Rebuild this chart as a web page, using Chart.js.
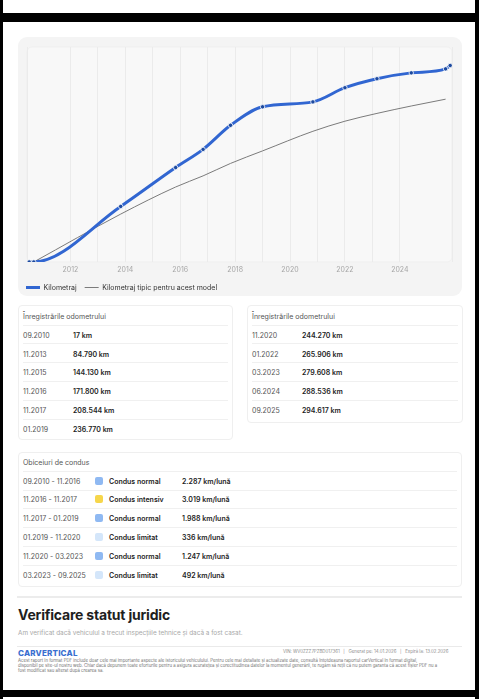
<!DOCTYPE html>
<html>
<head>
<meta charset="utf-8">
<script src="https://cdn.jsdelivr.net/npm/chart.js@4.4.1/dist/chart.umd.min.js"></script>
<style>
  html, body { margin: 0; padding: 0; }
  body { width: 479px; height: 699px; background: #000; position: relative; overflow: hidden; font-family: Inter, "Noto Sans", sans-serif; }
  .sheet { position: absolute; left: 3px; width: 472px; background: #fff; }
  .card { position: absolute; box-sizing: border-box; }
  #chartCard { left: 18px; top: 37px; width: 444px; height: 259px; background: #f4f4f4; border-radius: 9px; }
  #chartCanvas { position: absolute; left: 18px; top: 37px; }
  .tbl { border: 1px solid #efefef; border-radius: 4px; background: #fff; }
  .row { position: absolute; left: 0; right: 0; height: 18.8px; font-size: 7px; color: #555; }
  .row span { position: absolute; top: 50%; transform: translateY(-50%); white-space: nowrap; }
  .row .v { color: #222; font-weight: 600; }
  .sep { position: absolute; left: 4px; right: 4px; height: 1px; background: #f0f0f0; }
  .sq { position: absolute; width: 8px; height: 8px; border-radius: 2px; top: 50%; transform: translateY(-50%); }
  .abs { position: absolute; white-space: nowrap; }
</style>
</head>
<body>
<div class="sheet" style="top:0;height:13px;"></div>
<div class="sheet" style="top:22px;height:668px;"></div>
<div class="sheet" style="top:697px;height:2px;"></div>

<div id="chartCard" class="card"></div>
<canvas id="chartCanvas" width="444" height="264"></canvas>

<div id="odoLeft" class="card tbl" style="left:18px;top:305px;width:215px;height:135px;"></div>
<div id="odoRight" class="card tbl" style="left:247px;top:305px;width:216px;height:118px;"></div>
<div id="habits" class="card tbl" style="left:18px;top:452px;width:444px;height:135px;"></div>

<div class="abs" style="left:17px;top:596px;width:445px;height:2px;background:#ececec;"></div>
<div class="abs" style="left:18px;top:606px;font-size:14px;font-weight:700;color:#1e1e1e;letter-spacing:-0.2px;">Verificare statut juridic</div>
<div class="abs" style="left:18px;top:629px;font-size:6.4px;color:#a8a8a8;">Am verificat dacă vehiculul a trecut inspecțiile tehnice și dacă a fost casat.</div>
<div class="abs" style="left:17px;top:646px;width:445px;height:1px;background:#eaeaea;"></div>
<div class="abs" style="left:18px;top:648px;font-size:8px;font-weight:800;color:#3a6fd0;letter-spacing:0.2px;">CARVERTICAL</div>
<div class="abs" style="left:283px;top:649px;font-size:4.4px;color:#8a8a8a;">VIN: WV0ZZZ7PZBD017361 &nbsp;&nbsp;|&nbsp;&nbsp; Generat pe: 14.01.2026 &nbsp;&nbsp;|&nbsp;&nbsp; Expiră la: 13.02.2026</div>
<div class="abs" style="left:18px;top:657.5px;font-size:4.3px;line-height:5.2px;color:#707070;">Acest raport în format PDF include doar cele mai importante aspecte ale istoricului vehiculului. Pentru cele mai detaliate și actualizate date, consultă întotdeauna raportul carVertical în format digital,<br>disponibil pe site-ul nostru web. Chiar dacă depunem toate eforturile pentru a asigura acuratețea și corectitudinea datelor la momentul generării, te rugăm să reții că nu putem garanta că acest fișier PDF nu a<br>fost modificat sau alterat după crearea sa.</div>

<script>
// chart data (dates MM.YYYY)
const mileageDates = ["07.2010", "09.2010", "11.2013", "11.2015", "11.2016", "11.2017", "01.2019", "11.2020", "01.2022", "03.2023", "06.2024", "09.2025", "11.2025"];
const mileageKm = [0, 17, 84790, 144130, 171800, 208544, 236770, 244270, 265906, 279608, 288536, 294617, 299800];

const typicalDates = ["09.2010", "11.2013", "11.2015", "11.2016", "11.2017", "01.2019", "11.2020", "01.2022", "03.2023", "06.2024", "09.2025"];
const typicalKm = [17, 73100, 114400, 131400, 150400, 169500, 199400, 214800, 226700, 238000, 248400];

// tables
const odoLeftDates = ["09.2010", "11.2013", "11.2015", "11.2016", "11.2017", "01.2019"];
const odoLeftValues = ["17 km", "84.790 km", "144.130 km", "171.800 km", "208.544 km", "236.770 km"];
const odoRightDates = ["11.2020", "01.2022", "03.2023", "06.2024", "09.2025"];
const odoRightValues = ["244.270 km", "265.906 km", "279.608 km", "288.536 km", "294.617 km"];

const habitPeriods = ["09.2010 - 11.2016", "11.2016 - 11.2017", "11.2017 - 01.2019", "01.2019 - 11.2020", "11.2020 - 03.2023", "03.2023 - 09.2025"];
const habitTypes = ["Condus normal", "Condus intensiv", "Condus normal", "Condus limitat", "Condus normal", "Condus limitat"];
const habitRates = ["2.287 km/lună", "3.019 km/lună", "1.988 km/lună", "336 km/lună", "1.247 km/lună", "492 km/lună"];
const habitColors = { "Condus normal": "#8fb9f2", "Condus intensiv": "#f6d64b", "Condus limitat": "#d4e6fa" };

function toYear(s) {
  const [m, y] = s.split(".").map(Number);
  return y + (m - 1) / 12;
}

function addRow(box, top, cells) {
  const r = document.createElement("div");
  r.className = "row";
  r.style.top = top + "px";
  cells.forEach(c => {
    const el = document.createElement(c.sq ? "div" : "span");
    if (c.sq) { el.className = "sq"; el.style.background = c.sq; }
    else { el.textContent = c.t; if (c.b) el.className = "v"; }
    el.style.left = c.x + "px";
    r.appendChild(el);
  });
  box.appendChild(r);
}
function addSep(box, top) {
  const s = document.createElement("div");
  s.className = "sep";
  s.style.top = top + "px";
  box.appendChild(s);
}

function buildOdo(id, dates, vals, valX) {
  const box = document.getElementById(id);
  addRow(box, 0.6, [{ t: "Înregistrările odometrului", x: 4 }]);
  dates.forEach((d, i) => {
    addSep(box, 18.6 + i * 18.8);
    addRow(box, 19.4 + i * 18.8, [{ t: d, x: 4 }, { t: vals[i], x: valX, b: true }]);
  });
}
buildOdo("odoLeft", odoLeftDates, odoLeftValues, 54);
buildOdo("odoRight", odoRightDates, odoRightValues, 54);

const hb = document.getElementById("habits");
addRow(hb, -0.4, [{ t: "Obiceiuri de condus", x: 4 }]);
habitPeriods.forEach((p, i) => {
  addSep(hb, 17.8 + i * 18.8);
  addRow(hb, 18.2 + i * 18.8, [
    { t: p, x: 4 },
    { sq: habitColors[habitTypes[i]], x: 76 },
    { t: habitTypes[i], x: 90, b: true },
    { t: habitRates[i], x: 163, b: true }
  ]);
});

const plotBg = {
  id: "plotBg",
  beforeDraw(chart) {
    const { ctx, chartArea: a } = chart;
    ctx.save();
    ctx.fillStyle = "#f8f8f8";
    ctx.strokeStyle = "#efefef";
    ctx.beginPath();
    ctx.roundRect(a.left, a.top, a.right - a.left, a.bottom - a.top, 5);
    ctx.fill();
    ctx.stroke();
    ctx.restore();
  }
};

const config = {
  type: "line",
  data: {
    datasets: [
      {
        label: "Kilometraj",
        data: mileageDates.map((d, i) => ({ x: toYear(d), y: mileageKm[i] })),
        borderColor: "#3166d1",
        borderWidth: 3,
        pointRadius: 2.2,
        pointBackgroundColor: "#1d4a9f",
        pointBorderColor: "#ffffff",
        pointBorderWidth: 0.8,
        cubicInterpolationMode: "monotone",
        order: 0
      },
      {
        label: "Kilometraj tipic pentru acest model",
        data: typicalDates.map((d, i) => ({ x: toYear(d), y: typicalKm[i] })),
        borderColor: "#7b7b7b",
        borderWidth: 1,
        pointRadius: 0,
        cubicInterpolationMode: "monotone",
        order: 1
      }
    ]
  },
  options: {
    responsive: false,
    animation: false,
    layout: { padding: { top: 10, right: 10, left: 0, bottom: 0 } },
    scales: {
      x: {
        type: "linear",
        min: 2010.42,
        max: 2025.9,
        grid: { color: "#ebebeb", drawTicks: false },
        border: { display: false },
        ticks: {
          stepSize: 1,
          autoSkip: false,
          maxRotation: 0,
          padding: 4,
          color: "#a6a6a6",
          font: { family: "Inter", size: 7 },
          callback: v => (Number.isInteger(v) && v % 2 === 0 ? String(v) : "")
        },
        afterFit: s => { s.height = 14; }
      },
      y: {
        min: 0,
        max: 328000,
        grid: { display: false },
        border: { display: false },
        ticks: { display: false },
        afterFit: s => { s.width = 9; }
      }
    },
    plugins: {
      legend: {
        position: "bottom",
        align: "start",
        labels: {
          usePointStyle: true,
          pointStyle: "line",
          pointStyleWidth: 14,
          padding: 8,
          color: "#333",
          font: { family: "Inter", size: 7 },
          generateLabels: chart =>
            Chart.defaults.plugins.legend.labels.generateLabels(chart).map(l => {
              const ds = chart.data.datasets[l.datasetIndex];
              l.strokeStyle = ds.borderColor;
              l.lineWidth = ds.borderWidth;
              return l;
            })
        }
      },
      tooltip: { enabled: false }
    }
  },
  plugins: [plotBg]
};

const myChart = new Chart(document.getElementById("chartCanvas"), config);
</script>
</body>
</html>
